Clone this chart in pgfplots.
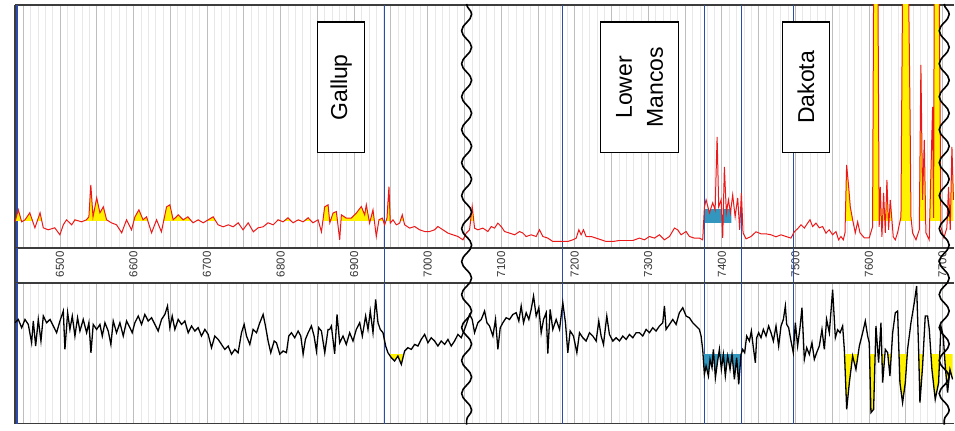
\documentclass[border=0pt]{standalone}
\usepackage{pgfplots}
\pgfplotsset{compat=1.18}
\usepackage{pgfplotstable}
\usetikzlibrary{decorations.pathmorphing}
\usepackage{fontspec}
\setmainfont{Liberation Sans}
\definecolor{logred}{RGB}{235,25,25}
\definecolor{topblue}{RGB}{45,75,170}
\definecolor{tealfill}{RGB}{50,150,190}
\definecolor{gridmaj}{RGB}{190,190,190}
\definecolor{gridmin}{RGB}{232,232,232}
\definecolor{frame}{RGB}{60,60,60}

\pgfplotstableread{
d v
6439 26
6443.4 38
6448 26
6452.5 28
6459 35
6466 20
6473 35
6477.4 20
6484 18
6493 20
6500 13
6504.6 23
6509 28
6516 23
6520.4 28
6529.5 26
6536 28
6539.4 31
6542 63
6545 31
6550 50
6554.4 35
6559 41
6563.5 28
6570 25
6577 23
6584 15
6590.6 28
6597.4 18
6602 31
6607.4 38
6613 28
6617.8 31
6624.6 15
6631.4 28
6638 16
6645 41
6649.5 43
6654 28
6661 33
6667.6 28
6674 31
6681 25
6688 28
6694.8 25
6701.6 28
6708.4 31
6715 23
6722 21
6729 23
6735.5 21
6742.4 25
6749 18
6756 25
6763 16
6769.5 20
6776.3 21
6783 25
6790 23
6796.7 28
6803.5 26
6810 30
6817 25
6824 28
6830.7 26
6837.5 30
6844 25
6851 28
6855.6 16
6860 41
6864.6 43
6867 25
6871.3 34.7
6875.9 36.3
6880.4 8
6882.7 33
6889.4 29.7
6896.2 29.7
6903 34.7
6909.8 41.3
6914.4 33
6916.6 43
6921.1 24.7
6925.7 38
6930.2 11.3
6933.8 28
6938.4 29.7
6941.5 23
6944.7 29.7
6947.4 61.3
6949.2 24.7
6952.9 28
6957.4 23
6961.9 24.7
6965.5 33
6968.7 23
6975.5 19.7
6982.3 21.3
6989.1 18
6995.9 16.3
7002.7 16.3
7009.5 18
7014 21.3
7020.8 18
7027.6 14.7
7034.4 13
7041.2 11.3
7048 8
7052.5 14.7
7057 18
7060.6 41.3
7063.8 19.7
7068.3 18
7075.1 19.7
7081.9 16.3
7086.5 21.3
7091 19.7
7095.5 24.7
7100 21.3
7104.6 16.3
7111.4 14.7
7118.2 13
7125 16.3
7129.5 14.7
7134 11.3
7140.8 13
7147.6 11.3
7152.1 18
7156.7 11.3
7163.4 9.7
7170.2 6.3
7177 6.3
7183.8 6.3
7190.6 6.3
7197.4 8
7202 9.7
7205.6 18
7208.7 13
7211.9 18
7215.5 11.3
7222.3 11.3
7229.1 9.7
7235.9 8
7242.7 6.3
7251.8 6.3
7260.8 7.3
7269.9 7.3
7279 7.3
7288 9.7
7294.8 8
7301.6 11.3
7308.4 9.7
7315.2 13
7322 8
7328.8 11.3
7335.6 19.7
7340 18
7344.6 13
7351.4 16.3
7356 11.3
7362.7 9.7
7369.5 9.7
7374 8
7376.4 41
7378.6 48
7383.2 35
7387.6 45
7390.9 38
7393.6 111
7395.8 41
7399.1 48
7401.2 10
7403.5 81
7406.2 35
7409 48
7411.7 35
7414.8 53
7418.1 31
7421.6 50
7424.3 18
7426.6 55
7428.9 15
7433 9
7439.7 11.3
7446.5 16
7453.3 14
7460 14
7466.9 13
7473.7 11
7480.5 13
7487.3 11.3
7494 9.7
7498.6 16
7503 19
7507.7 23
7512.2 19.7
7516.7 24.7
7519.9 28
7523.5 21.3
7528 24.7
7532.6 20
7537 21.3
7539.4 18
7541.6 14.7
7546 18
7550.7 13
7555.2 16.3
7558.8 8
7562 11.3
7565.2 8
7567.5 15
7569.7 83
7572.5 61
7574.7 41
7577.9 28
7581.5 15
7584.7 26
7587.9 15
7593.7 10
7600.5 10
7605 21
7606.4 260
7612.3 260
7614 21
7615.5 61
7617.7 11
7620 55
7622.3 15
7624.5 68
7626.8 18
7629 48
7631.3 28
7633.1 11
7635.9 8
7639 15
7643.6 31
7644.5 131
7645.8 260
7654 260
7656 131
7657.2 31
7659.4 15
7664 8
7668.5 18
7670.7 183
7673 48
7675.3 108
7677.5 15
7682 8
7686.6 141
7688 30
7688.8 260
7695.6 260
7697.9 21
7702 10
7706 20
7708.3 61
7710.6 18
7712.9 101
7715 48
}\topdata

\pgfplotstableread{
d v
6438.9 101
6443.4 104.3
6448 96
6452.5 104.3
6457 99.3
6461.5 81
6463.8 102.7
6467 77.7
6470.6 104.3
6474.2 82.7
6477.4 107.7
6481.9 101
6486.5 104.3
6491 97.7
6495.5 91
6500 102.7
6504.6 112.7
6506.8 74.3
6510.5 111
6513.6 94.3
6516.8 107.7
6520.4 87.7
6524 106
6527.2 92.7
6531.7 104.3
6536.3 91
6539.4 101
6542.2 71
6545.3 99.3
6549.9 94.3
6554.4 99.3
6557.6 87.7
6561.2 101
6565.7 92.7
6569.3 79.3
6572.5 102.7
6577 91
6581.6 101
6586.1 87.7
6590.6 102.7
6595.2 96
6598.3 91
6601.9 101
6606.5 107.7
6611 99.3
6615.5 109.3
6620 102.7
6624.6 106
6629.1 99.3
6633.6 92.7
6638.2 104.3
6642.7 109.3
6646.3 117.7
6649.5 96
6652.7 107.7
6656.3 94.3
6660.8 104.3
6665.4 99.3
6669.9 102.7
6674.4 91
6679 97.7
6683.5 92.7
6688 96
6692.5 87.7
6697.1 94.3
6701.6 89.3
6706.1 76
6710.6 87.7
6715.2 84.3
6719.7 79.3
6724.2 74.3
6728.8 77.7
6733.3 69.5
6737.8 74.3
6742.3 71
6746.9 91
6750.5 99.3
6753.7 87.7
6758.2 79.3
6762.7 94.3
6767.3 91
6771.8 101
6776.3 109.3
6779.5 97.7
6783.1 82.7
6786.7 71
6791.3 82.7
6794.4 81
6799 69.5
6803.5 72.7
6808 71
6811.2 87.7
6814.8 91
6819.3 86
6823.9 92.7
6827.5 87.7
6830.7 69.5
6833.8 84.3
6837.5 91
6842 97.7
6845.6 87.7
6848.8 72.7
6851.9 96
6855.6 92.7
6860.1 71
6864.6 94.3
6866.8 94.3
6869.1 97.7
6873.6 70
6876.8 109.3
6880.4 81
6884.9 87.7
6889.4 79.3
6894 91
6898.5 82.7
6903 94.3
6907.6 101
6911.2 87.7
6915.7 107.7
6918.9 94.3
6922 112.7
6925.7 91
6929.3 124.3
6932.5 101
6935.6 94.3
6939.3 91
6942.9 77.7
6946 71
6950.6 66
6955.1 62.7
6959.6 67.7
6964.2 59.3
6968.7 72.7
6973.2 76
6977.8 74.3
6982.3 79.3
6986.8 77.7
6991.3 84.3
6995.9 89.3
7000.4 81
7004.9 86
7009.5 82.7
7014 77.7
7018.5 82.7
7023.1 79.3
7027.6 84.3
7032.1 77.7
7036.6 82.7
7041.2 89.3
7045.7 86
7050.2 94.3
7053.4 101
7057 109.3
7060.6 104.3
7063.8 91
7068.3 101
7072.9 104.3
7077.4 112.7
7080.6 101
7084.2 97.7
7088.7 87.7
7092.3 104.3
7095.5 74.3
7098.7 96
7102.3 101
7106.8 106
7111.4 104.3
7115.9 109.3
7120.4 111
7124 102.7
7127.2 117.7
7130.4 101
7134 111
7137.6 104.3
7140.8 114.3
7144 127.7
7147.6 107.7
7151.2 116
7154.4 91
7157.6 104.3
7161.2 111
7163.4 70
7166.6 114.3
7170.2 94.3
7174.8 104.3
7179.3 94.3
7183.8 121
7187.4 101
7190.6 71
7193.8 92.7
7198.3 87.7
7202.9 71
7206.5 91
7211 86
7215.5 82.7
7220.1 91
7224.6 87.7
7229.1 82.7
7232.7 102.7
7235.9 87.7
7239.1 79.3
7243.6 107.7
7247.2 89.3
7251.8 82.7
7256.3 86
7260.8 82.7
7265.4 87.7
7269.9 84.3
7274.4 89.3
7279 86
7283.5 91
7288 91
7292.5 87.7
7297.1 94.3
7301.6 91
7306.1 96
7310.6 92.7
7315.2 97.7
7319.7 101
7322 117.7
7324.2 94.3
7328.8 99.3
7333.3 104.3
7337.8 99.3
7342.3 111
7346.9 116
7351.4 107.7
7355.9 106
7360.5 101
7365 97.7
7369.5 94.3
7371.8 87.7
7374 74.3
7376.3 49.3
7378.6 57.7
7381.8 47.7
7384 64.3
7386.7 56
7388.5 74.3
7391.3 46
7394 61
7396.7 74.3
7399.4 54.3
7402.1 69.3
7404.8 47.7
7408 67.7
7411.2 54.3
7413.9 69.3
7417.1 44.3
7420.2 66
7423 39.3
7426.1 69.3
7428.4 74.3
7431.1 71
7433.8 87.7
7437.5 82.7
7440.2 92.7
7442.9 76
7445.6 61
7447.4 86
7450.1 91
7453.3 86
7456.5 94.3
7460.1 87.7
7463.7 97.7
7466.9 91
7470.1 82.7
7473.7 97.7
7477.3 77.7
7480.5 97.7
7483.7 104.3
7486.4 117.7
7488.2 99.3
7490.9 96
7494.1 82.7
7497.2 71
7500 101
7503.1 77.7
7506.3 96
7509 116
7512.2 64.3
7515.4 76
7519 69.3
7522.6 81
7525.8 64.3
7528.9 71
7532.6 77.7
7536.2 94.3
7539.4 74.3
7542.5 104.3
7546.2 91
7550.7 134
7554.4 86
7557.5 94
7560.8 91
7564.3 97.7
7566.6 74.3
7569.8 14.3
7573.4 41
7577.9 67.7
7582.4 54.3
7587 77.7
7591.5 91
7595.1 102.7
7598.3 87.7
7600.5 81
7602.8 11
7606.4 14.3
7609.6 97.7
7613.2 61
7616.4 101
7618.7 41
7622.3 74.3
7625.5 71
7628.6 47.7
7632.3 91
7635.9 111
7639 112.7
7642.2 41
7645.8 21
7649.5 41
7652.6 74.3
7657.2 101
7661.7 121
7664.9 137.7
7667.6 74.3
7669.4 21
7673 57.7
7676.6 107.7
7679.8 107.7
7682.1 94.3
7685.7 54.3
7690.2 24.3
7694.8 41
7697.9 97.7
7701.1 87.7
7703.8 57.7
7707 31
7710.2 54.3
7713.8 44.3
}\botdata

\pgfplotsset{
  logpanel/.style={
    scale only axis, width=940pt, anchor=south west,
    xmin=6438.9, xmax=7716,
    axis x line*=box, axis y line*=left,
    axis line style={frame, line width=1.6pt},
    xtick={6450,6500,...,7700}, minor x tick num=4,
    xmajorgrids, xminorgrids,
    major grid style={gridmaj, line width=0.8pt},
    minor grid style={gridmin, line width=0.5pt},
    xticklabels={}, ytick=\empty,
    major tick length=0pt, minor tick length=0pt,
    extra x ticks={6441.6,6941.6,7183.4,7376.4,7427.3,7498},
    extra x tick labels={},
    extra x tick style={grid=major, major tick length=0pt, major grid style={topblue, line width=1.1pt}},
  }
}

\begin{document}
\begin{tikzpicture}

% top panel
\begin{axis}[logpanel, at={(15pt,181pt)}, height=243pt, ymin=0, ymax=243]
  \begin{scope}
    \clip (axis cs:6400,27) rectangle (axis cs:7370,400);
    \addplot[fill=yellow, draw=none] table[x=d,y=v] {\topdata} \closedcycle;
  \end{scope}
  \begin{scope}
    \clip (axis cs:7432,27) rectangle (axis cs:7800,400);
    \addplot[fill=yellow, draw=none] table[x=d,y=v] {\topdata} \closedcycle;
  \end{scope}
  \begin{scope}
    \clip (axis cs:7377,25) rectangle (axis cs:7413,38);
    \addplot[fill=tealfill, draw=none] table[x=d,y=v] {\topdata} \closedcycle;
  \end{scope}
  \addplot[logred, line width=1pt] table[x=d,y=v] {\topdata};
\end{axis}

% depth track
\begin{axis}[scale only axis, width=940pt, anchor=south west, at={(15pt,146pt)}, height=35pt,
  xmin=6438.9, xmax=7716, ymin=0, ymax=1,
  axis x line*=box, axis y line*=left,
  axis line style={frame, line width=1.6pt},
  xtick={6500,6600,...,7700},
  xticklabels={6500,6600,6700,6800,6900,7000,7100,7200,7300,7400,7500,7600,7700},
  xticklabel style={rotate=90, anchor=center, xshift=18.5pt, font=\fontsize{11.5}{12}\selectfont, text=black!80},
  ytick=\empty, major tick length=0pt,
  extra x ticks={6441.6,6941.6,7183.4,7376.4,7427.3,7498},
  extra x tick labels={},
  extra x tick style={grid=major, major tick length=0pt, major grid style={topblue, line width=1.1pt}},
]
  \addplot[draw=none] coordinates {(6500,0.5) (7600,0.5)};
\end{axis}

% bottom panel
\begin{axis}[logpanel, at={(15pt,5pt)}, height=141pt, ymin=0, ymax=141]
  \begin{scope}
    \clip (axis cs:6935,-10) rectangle (axis cs:6975,69);
    \addplot[fill=yellow, draw=none] table[x=d,y=v] {\botdata} -- (axis cs:7713.8,300) -- (axis cs:6438.9,300) -- cycle;
  \end{scope}
  \begin{scope}
    \clip (axis cs:7560,-10) rectangle (axis cs:7800,69);
    \addplot[fill=yellow, draw=none] table[x=d,y=v] {\botdata} -- (axis cs:7713.8,300) -- (axis cs:6438.9,300) -- cycle;
  \end{scope}
  \begin{scope}
    \clip (axis cs:7376,-10) rectangle (axis cs:7428,69);
    \addplot[fill=tealfill, draw=none] table[x=d,y=v] {\botdata} -- (axis cs:7713.8,300) -- (axis cs:6438.9,300) -- cycle;
  \end{scope}
  \addplot[black, line width=1.3pt] table[x=d,y=v] {\botdata};
\end{axis}

% formation labels
\draw[line width=1.2pt, fill=white] (318pt,276pt) rectangle (365pt,407pt);
\node[rotate=90, font=\fontsize{23}{26}\selectfont] at (341.5pt,341.5pt) {Gallup};
\draw[line width=1.2pt, fill=white] (601pt,276pt) rectangle (679pt,407pt);
\node[rotate=90, align=center, font=\fontsize{23}{31}\selectfont] at (640pt,341.5pt) {Lower\\Mancos};
\draw[line width=1.2pt, fill=white] (783pt,276pt) rectangle (830pt,407pt);
\node[rotate=90, font=\fontsize{23}{26}\selectfont] at (806.5pt,341.5pt) {Dakota};

% break symbols
\draw[line width=1.6pt, decorate, decoration={snake, amplitude=5pt, segment length=33pt}] (467pt,425pt) -- (467pt,4pt);
\draw[line width=1.6pt, decorate, decoration={snake, amplitude=5pt, segment length=33pt}] (945pt,425pt) -- (945pt,4pt);

\path (0pt,0pt) rectangle (955pt,429pt);
\end{tikzpicture}
\end{document}
